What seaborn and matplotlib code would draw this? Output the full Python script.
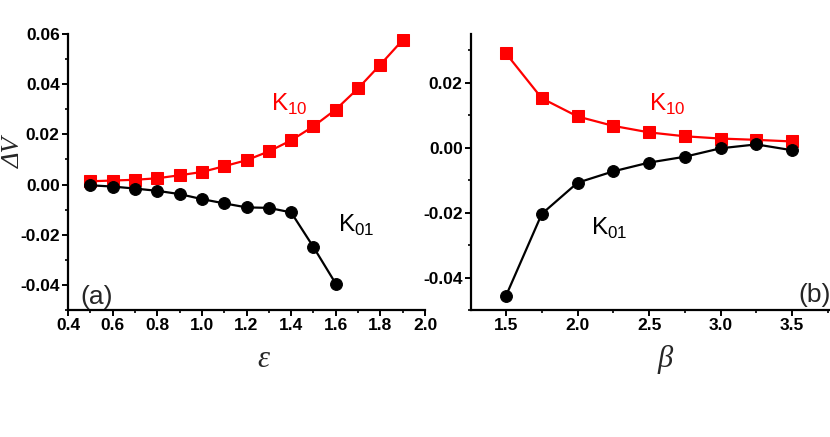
import matplotlib
matplotlib.use("Agg")
import matplotlib.pyplot as plt
import seaborn as sns
import pandas as pd
from matplotlib.ticker import MultipleLocator, FormatStrFormatter

# panel (a): dV vs epsilon
eps_k10 = [0.5, 0.6, 0.7, 0.8, 0.9, 1.0, 1.1, 1.2, 1.3, 1.4, 1.5, 1.6, 1.7, 1.8, 1.9]
dv_k10_a = [0.0013, 0.0016, 0.0019, 0.0025, 0.0037, 0.0050, 0.0073, 0.0097,
            0.0132, 0.0176, 0.0232, 0.0299, 0.0383, 0.0478, 0.0576]
eps_k01 = [0.5, 0.6, 0.7, 0.8, 0.9, 1.0, 1.1, 1.2, 1.3, 1.4, 1.5, 1.6]
dv_k01_a = [-0.0003, -0.0008, -0.0016, -0.0025, -0.0038, -0.0058, -0.0075,
            -0.0091, -0.0093, -0.0111, -0.0249, -0.0395]

# panel (b): dV vs beta
beta = [1.5, 1.75, 2.0, 2.25, 2.5, 2.75, 3.0, 3.25, 3.5]
dv_k10_b = [0.0290, 0.0152, 0.0096, 0.0067, 0.0047, 0.0035, 0.0028, 0.0024, 0.0019]
dv_k01_b = [-0.0456, -0.0204, -0.0108, -0.0073, -0.0046, -0.0028, -0.0002, 0.0010, -0.0008]

sns.set_theme(style="ticks")
plt.rcParams['font.family'] = ['Liberation Sans', 'DejaVu Sans']
plt.rcParams['axes.unicode_minus'] = False

fig = plt.figure(figsize=(8.3, 4.37), dpi=100)
ax1 = fig.add_axes([68 / 830, 1 - 310 / 437, 357 / 830, 276 / 437])
ax2 = fig.add_axes([471 / 830, 1 - 310 / 437, 359 / 830, 276 / 437])

red = '#ff0000'


def draw(ax, x, y, color, marker, size):
    df = pd.DataFrame({'x': x, 'y': y})
    sns.lineplot(data=df, x='x', y='y', ax=ax, color=color, marker=marker,
                 markersize=size, markeredgecolor=color, linewidth=1.6)


draw(ax1, eps_k10, dv_k10_a, red, 's', 8)
draw(ax1, eps_k01, dv_k01_a, 'black', 'o', 8.5)
draw(ax2, beta, dv_k10_b, red, 's', 8)
draw(ax2, beta, dv_k01_b, 'black', 'o', 8.5)

ax1.set_xlim(0.4, 2.0)
ax1.set_ylim(-0.05, 0.06)
ax1.xaxis.set_major_locator(MultipleLocator(0.2))
ax1.xaxis.set_minor_locator(MultipleLocator(0.1))
ax1.yaxis.set_major_locator(MultipleLocator(0.02))
ax1.yaxis.set_minor_locator(MultipleLocator(0.01))
ax1.xaxis.set_major_formatter(FormatStrFormatter('%.1f'))
ax1.yaxis.set_major_formatter(FormatStrFormatter('%.2f'))

ax2.set_xlim(1.255, 3.765)
ax2.set_ylim(-0.05, 0.035)
ax2.xaxis.set_major_locator(MultipleLocator(0.5))
ax2.xaxis.set_minor_locator(MultipleLocator(0.25))
ax2.yaxis.set_major_locator(MultipleLocator(0.02))
ax2.yaxis.set_minor_locator(MultipleLocator(0.01))
ax2.xaxis.set_major_formatter(FormatStrFormatter('%.1f'))
ax2.yaxis.set_major_formatter(FormatStrFormatter('%.2f'))

for ax in (ax1, ax2):
    sns.despine(ax=ax)
    for s in ('left', 'bottom'):
        ax.spines[s].set_linewidth(1.6)
        ax.spines[s].set_color('black')
    ax.tick_params(which='major', direction='out', length=4, width=1.4,
                   labelsize=12.5, colors='black', pad=2)
    ax.tick_params(which='minor', direction='out', length=2.5, width=1.2, colors='black')
    for lab in ax.get_xticklabels() + ax.get_yticklabels():
        lab.set_fontweight('bold')
    ax.set_ylabel('')

serif = ['Liberation Serif', 'DejaVu Serif']
ax1.set_xlabel('ε', fontsize=22, style='italic', family=serif, va='center')
ax1.xaxis.set_label_coords(0.546, -0.181)
ax2.set_xlabel('β', fontsize=22, style='italic', family=serif, va='center')
ax2.xaxis.set_label_coords(0.54, -0.181)
fig.text(14 / 830, 1 - 152 / 437, 'ΔV', fontsize=19, style='italic', family=serif,
         rotation=90, ha='center', va='center')

ax1.text(1.31, 0.0295, 'K$_{\\mathregular{10}}$', color=red, fontsize=17.5)
ax1.text(1.61, -0.0188, 'K$_{\\mathregular{01}}$', color='black', fontsize=17.5)
ax1.text(0.455, -0.0475, '(a)', fontsize=19)
ax2.text(3.77, -0.0475, '(b)', fontsize=19, ha='right')
ax2.text(2.5, 0.0113, 'K$_{\\mathregular{10}}$', color=red, fontsize=17.5)
ax2.text(2.094, -0.0268, 'K$_{\\mathregular{01}}$', color='black', fontsize=17.5)

fig.savefig('out.png', dpi=100)
